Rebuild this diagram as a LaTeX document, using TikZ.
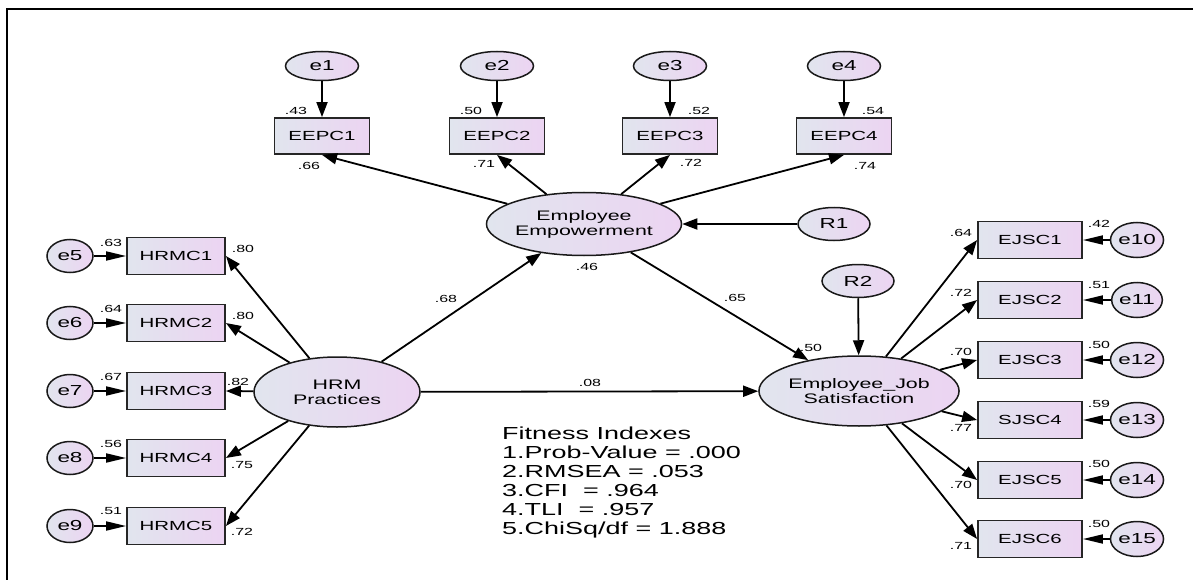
\documentclass[tikz,border=0pt]{standalone}
\usepackage{fontspec}
\setmainfont{Liberation Sans}[FakeStretch=1.55]
\usetikzlibrary{arrows.meta,shapes.geometric}
\definecolor{gA}{RGB}{225,229,238}
\definecolor{gB}{RGB}{236,212,242}
\tikzset{
  shd/.style={left color=gA, right color=gB},
  obs/.style={shd, draw=black!85, line width=1.8pt, minimum width=95pt, minimum height=36pt, inner sep=0pt, font=\fontsize{13.2}{14}\selectfont},
  lat/.style={shd, ellipse, draw=black!90, line width=1.5pt, minimum width=166pt, minimum height=70pt, inner sep=0pt, align=center, font=\fontsize{13.8}{15}\selectfont},
  err/.style={shd, ellipse, draw=black!90, line width=1.5pt, minimum width=46pt, minimum height=33pt, inner sep=0pt, font=\fontsize{14.5}{15}\selectfont},
  num/.style={inner sep=0pt, font=\fontsize{10.3}{11}\selectfont},
  arr/.style={-{Triangle[length=15pt,width=11pt]}, line width=1.8pt},
  harr/.style={-{Triangle[length=20pt,width=9pt]}, line width=1.8pt},
}
\begin{document}
\begin{tikzpicture}[x=1pt,y=-1pt]
\useasboundingbox (0,0) rectangle (1193,580);
\fill[white] (0,0) rectangle (1193,580);
\draw[line width=2.4pt] (7,580) -- (7,9) -- (1193,9);

% top row
\foreach \i/\x in {1/322,2/497,3/670,4/844}{
  \node[err, minimum width=73pt, minimum height=29pt] (e\i) at (\x,66) {e\i};
  \node[obs] (p\i) at (\x,136) {EEPC\i};
  \draw[arr] (e\i) -- (p\i);
}
\node[lat, minimum height=63pt] (ee) at (584,224) {Employee\\Empowerment};
\node[err, minimum width=72pt] (r1) at (834,224) {R1};
\node[lat] (hrm) at (337,392) {HRM\\Practices};
\node[lat] (ejs) at (859,391) {Employee\_Job\\Satisfaction};
\node[err, minimum width=72pt] (r2) at (858,281) {R2};

\foreach \i in {1,...,4}{ \draw[arr] (ee) -- (p\i.south); }
\draw[arr] (r1) -- (ee);
\draw[arr] (r2) -- (ejs);
\draw[arr] (hrm) -- (ee);
\draw[arr] (ee) -- (ejs);
\draw[arr] (hrm) -- (ejs);

% left
\foreach \i/\y in {1/256,2/323,3/391,4/458,5/526}{
  \pgfmathtruncatemacro{\k}{\i+4}
  \node[err] (e\k) at (70,\y) {e\k};
  \node[obs, minimum width=98pt, minimum height=37pt] (h\i) at (176,\y) {HRMC\i};
  \draw[harr] (e\k) -- (h\i);
  \draw[arr] (hrm) -- (h\i.east);
}
% right
\foreach \i/\y/\t in {1/240/EJSC1,2/300/EJSC2,3/360/EJSC3,4/420/SJSC4,5/480/EJSC5,6/539/EJSC6}{
  \pgfmathtruncatemacro{\k}{\i+9}
  \node[err, minimum width=48pt, minimum height=35pt] (e\k) at (1137,\y) {e\k};
  \node[obs, minimum width=104pt, minimum height=37pt] (j\i) at (1030,\y) {\t};
  \draw[harr] (e\k) -- (j\i);
  \draw[arr] (ejs) -- (j\i.west);
}

% numbers
\node[num] (n1) at (296,111) {.43};
\node[num] (n2) at (471,111) {.50};
\node[num] (n3) at (699,111) {.52};
\node[num] (n4) at (873,111) {.54};
\node[num] (n5) at (309,166) {.66};
\node[num] (n6) at (484,164) {.71};
\node[num] (n7) at (691,163) {.72};
\node[num] (n8) at (865,166) {.74};
\node[num] (n9) at (587,267) {.46};
\node[num] (n10) at (446,299) {.68};
\node[num] (n11) at (735,298) {.65};
\node[num] (n12) at (590,383) {.08};
\node[num] (n13) at (811,348) {.50};
\foreach \v/\y [count=\c] in {.63/243,.64/309,.67/377,.56/444,.51/511}{
  \node[num] (l\c) at (111,\y) {\v};
}
\foreach \v/\x/\y [count=\c] in {.80/243/249,.80/243/316,.82/238/382,.75/242/465,.72/242/532}{
  \node[num] (m\c) at (\x,\y) {\v};
}
\foreach \v/\y [count=\c] in {.64/233,.72/293,.70/352,.77/428,.70/485,.71/546}{
  \node[num] (q\c) at (961,\y) {\v};
}
\foreach \v/\y [count=\c] in {.42/224,.51/285,.50/345,.59/404,.50/464,.50/524}{
  \node[num] (s\c) at (1099,\y) {\v};
}

\node[anchor=north west, inner sep=0pt, align=left, font=\fontsize{17.4}{19}\selectfont] (fit) at (502,427)
 {Fitness Indexes\\1.Prob-Value = .000\\2.RMSEA = .053\\3.CFI\ \ = .964\\4.TLI\ \ = .957\\5.ChiSq/df = 1.888};
\end{tikzpicture}
\end{document}
